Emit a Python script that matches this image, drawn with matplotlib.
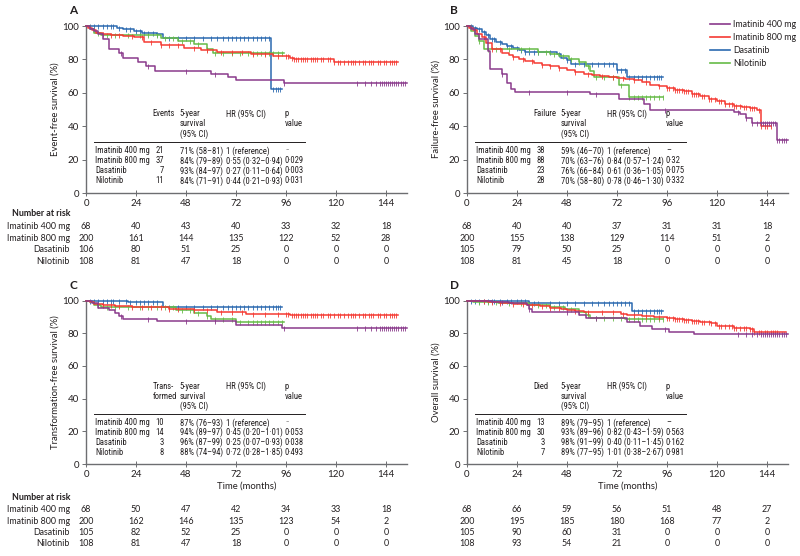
import numpy as np
import matplotlib
matplotlib.use("Agg")
import matplotlib.pyplot as plt
from matplotlib import transforms
from matplotlib import font_manager as fm
from matplotlib.lines import Line2D

plt.rcParams['font.family'] = ['Lato', 'DejaVu Sans']
TXT = "#231f20"

# pick a condensed face for the small tables if one is installed
_entries = [(f.name, str(f.stretch)) for f in fm.fontManager.ttflist]
TABLE_KW = dict(family=['Lato', 'DejaVu Sans'], fontsize=5.4)
for _name, _stretch in _entries:
    if _name in ('Liberation Sans Narrow', 'Roboto Condensed', 'Open Sans Condensed', 'Arial Narrow'):
        TABLE_KW = dict(family=[_name, 'Lato'], fontsize=6.2)
        break
else:
    for _name, _stretch in _entries:
        if _name in ('DejaVu Sans', 'Noto Sans', 'Open Sans') and _stretch in ('condensed', 'semi-condensed', '75', '87.5'):
            TABLE_KW = dict(family=[_name, 'Lato'], fontsize=5.9, fontstretch=_stretch)
            break

groups = ["Imatinib 400 mg", "Imatinib 800 mg", "Dasatinib", "Nilotinib"]
colors = ["#8a3a8c", "#f53a33", "#2b69b0", "#66bb47"]
xticks = [0, 24, 48, 72, 96, 120, 144]

# ---- censor times (months) per group ----
cens_im400 = [17, 30, 48, 62, 95, 130, 134, 137, 139, 141, 142, 143, 144, 145, 146, 147, 148, 149, 150, 151, 152, 153]
cens_im800 = [8, 12, 16, 22, 27, 31, 36, 40, 44, 52, 58, 65, 70, 75, 80, 86, 92, 96, 97, 99, 100, 101, 102, 103,
              104, 105, 106, 108, 109, 110, 111, 113, 114, 116, 117, 119, 121, 122, 124, 126, 127, 128, 129, 131,
              133, 134, 136, 137, 138, 140, 141, 143, 144, 146, 147, 148, 149]
cens_das = [2, 4, 6, 8, 10, 12, 13, 16, 19, 21, 24, 26, 28, 30, 32, 34, 40, 44, 48, 52, 56, 60, 63, 66, 68, 70,
            72, 74, 76, 78, 80, 82, 84, 86, 88, 90, 91, 92, 93]
cens_nil = [6, 10, 14, 20, 26, 30, 34, 38, 42, 46, 50, 54, 58, 62, 66, 70, 74, 78, 80, 82, 84, 86, 88, 90, 92, 94]

# ---- Panel A: event-free survival ----
A_t_im400 = [2, 4, 6, 8, 11, 16, 18, 25, 29, 33, 60, 68, 72, 95]
A_s_im400 = [98.5, 97, 95.5, 92, 86, 83.8, 81, 78.5, 76, 73, 71, 69.5, 67.5, 66]
A_t_im800 = [1, 3, 5, 8, 12, 18, 23, 28, 36, 47, 55, 63, 79, 90, 98, 100, 119]
A_s_im800 = [99, 97.5, 96, 95, 94.5, 94, 93.5, 90.5, 88.8, 86.8, 85.4, 84.4, 83, 82, 80.8, 80.2, 78.3]
A_t_das = [15, 18, 23, 27, 34, 37, 89]
A_s_das = [99, 98, 97, 96, 95, 93, 62]
A_t_nil = [2, 4, 7, 36, 44, 52, 58, 61]
A_s_nil = [98, 96, 94.5, 93, 91, 89, 86.5, 84]
A_end = [154, 150, 94, 95]

# ---- Panel B: failure-free survival ----
B_t_im400 = [2, 4, 6, 10, 11, 17, 19, 21, 23, 59, 73, 85, 88, 128, 131, 134, 137, 149]
B_s_im400 = [98, 95, 92, 85, 74, 71, 66, 62, 60.5, 59, 56.5, 53.5, 50, 48.8, 47.4, 44.8, 42, 32]
B_t_im800 = [1, 3, 5, 7, 9, 12, 17, 20, 22, 25, 28, 32, 36, 40, 44, 48, 52, 56, 60, 64, 68, 72, 76, 80, 84,
             88, 92, 96, 100, 104, 108, 112, 116, 120, 124, 128, 132, 136, 139, 141]
B_s_im800 = [99, 97.5, 95.5, 93.5, 90, 86, 84, 82.5, 81.5, 80, 79, 77.8, 76.8, 75.8, 74.8, 73.8, 72.6, 71.4,
             70.5, 70, 69.6, 69, 68.2, 67.4, 66.2, 64.8, 63.8, 62.8, 61.8, 60.8, 59.3, 57.8, 56.3, 54.8, 53.5,
             52.2, 51.5, 50.8, 49.8, 40]
B_t_das = [3, 5, 7, 9, 11, 14, 17, 19, 22, 25, 28, 43, 45, 48, 50, 72, 77]
B_s_das = [99, 98, 96.5, 94.5, 92, 90.5, 89, 88, 86.8, 85.4, 84.2, 83, 81, 79.4, 77, 73.4, 69.5]
B_t_nil = [2, 4, 6, 8, 34, 40, 44, 49, 54, 57, 59, 61, 73, 78]
B_s_nil = [97, 94, 91, 86, 84.5, 83.5, 82, 80, 78.4, 76, 72.8, 69.5, 64.5, 57.5]
B_end = [154, 146, 94, 94]

# ---- Panel C: transformation-free survival ----
C_t_im400 = [3, 6, 11, 14, 16, 18, 34, 72, 94]
C_s_im400 = [98.5, 95.5, 94, 92.5, 90.5, 88.5, 87.3, 85.3, 83]
C_t_im800 = [2, 4, 8, 14, 22, 40, 52, 63, 77, 98]
C_s_im800 = [99, 98, 97, 96.5, 96, 95, 94.2, 93, 92, 91.2]
C_t_das = [20, 37]
C_s_das = [99, 96]
C_t_nil = [2, 4, 7, 43, 52, 58, 60, 72]
C_s_nil = [99, 97.5, 96, 94, 92.5, 90.5, 88.5, 87]
C_end = [154, 150, 94, 95]

# ---- Panel D: overall survival ----
D_t_im400 = [5, 12, 20, 29, 30, 31, 54, 57, 77, 83, 89, 97, 109]
D_s_im400 = [99.5, 99, 98.5, 97.5, 95, 93, 91, 89.5, 87, 84.5, 82.5, 81, 79.7]
D_t_im800 = [4, 10, 16, 22, 29, 35, 40, 45, 48, 52, 56, 66, 74, 77, 84, 90, 96, 100, 104, 108, 112, 117, 120,
             128, 136, 138]
D_s_im800 = [99.7, 99.2, 98.5, 98, 97, 96.4, 95.5, 95, 94.3, 93.8, 93.2, 92.8, 92, 91, 90.6, 90, 89, 88.6, 88,
             87.5, 86.8, 86, 84.2, 83.2, 82.3, 80.7]
D_t_das = [8, 30, 79]
D_s_das = [99.5, 98.2, 93.8]
D_t_nil = [3, 15, 30, 40, 47, 54, 57, 59, 76]
D_s_nil = [99, 98.2, 97, 96, 94.5, 93, 91, 89.5, 88.6]
D_end = [154, 153, 94, 94]

# ---- tables ----
A_count_head = ["Events"]
A_counts = ["21", "37", "7", "11"]
A_surv = ["71% (58–81)", "84% (79–89)", "93% (84–97)", "84% (71–91)"]
A_hr = ["1 (reference)", "0·55 (0·32–0·94)", "0·27 (0·11–0·64)", "0·44 (0·21–0·93)"]
A_p = ["··", "0·029", "0·003", "0·031"]

B_count_head = ["Failure"]
B_counts = ["38", "88", "23", "28"]
B_surv = ["59% (46–70)", "70% (63–76)", "76% (66–84)", "70% (58–80)"]
B_hr = ["1 (reference)", "0·84 (0·57–1·24)", "0·61 (0·36–1·05)", "0·78 (0·46–1·30)"]
B_p = ["–", "0·32", "0·075", "0·332"]

C_count_head = ["Trans-", "formed"]
C_counts = ["10", "14", "3", "8"]
C_surv = ["87% (76–93)", "94% (89–97)", "96% (87–99)", "88% (74–94)"]
C_hr = ["1 (reference)", "0·45 (0·20–1·01)", "0·25 (0·07–0·93)", "0·72 (0·28–1·85)"]
C_p = ["··", "0·053", "0·038", "0·493"]

D_count_head = ["Died"]
D_counts = ["13", "30", "3", "7"]
D_surv = ["89% (79–95)", "93% (89–96)", "98% (91–99)", "89% (77–95)"]
D_hr = ["1 (reference)", "0·82 (0·43–1·59)", "0·40 (0·11–1·45)", "1·01 (0·38–2·67)"]
D_p = ["–", "0·563", "0·162", "0·981"]

# ---- number at risk ----
A_risk = [[68, 40, 43, 40, 33, 32, 18], [200, 161, 144, 135, 122, 52, 28],
          [106, 80, 51, 25, 0, 0, 0], [108, 81, 47, 18, 0, 0, 0]]
B_risk = [[68, 40, 40, 37, 31, 31, 18], [200, 155, 138, 129, 114, 51, 2],
          [105, 79, 50, 25, 0, 0, 0], [108, 81, 45, 18, 0, 0, 0]]
C_risk = [[68, 50, 47, 42, 34, 33, 18], [200, 162, 146, 135, 123, 54, 2],
          [105, 82, 52, 25, 0, 0, 0], [108, 81, 47, 18, 0, 0, 0]]
D_risk = [[68, 66, 59, 56, 51, 48, 27], [200, 195, 185, 180, 168, 77, 2],
          [105, 90, 60, 31, 0, 0, 0], [108, 93, 54, 21, 0, 0, 0]]

W, H = 800, 556
fig = plt.figure(figsize=(W / 100, H / 100), dpi=100)
XMAX = 154
PXM = 2.083


def add_ax(left, top, bottom):
    right = left + XMAX * PXM
    return fig.add_axes([left / W, 1 - bottom / H, (right - left) / W, (bottom - top) / H])


def km(ax, t, s, end, cens, color):
    x = np.r_[0, t, end]
    y = np.r_[100, s, s[-1]]
    ax.step(x, y, where='post', color=color, lw=1.1, clip_on=False, zorder=3)
    c = np.array([v for v in cens if v <= end])
    idx = np.searchsorted(np.asarray(t), c, side='right')
    yv = np.r_[100, s][idx]
    ax.plot(c, yv, ls='none', marker='|', ms=3.6, mew=0.6, color=color, clip_on=False, zorder=3)


def style(ax, ylabel, letter, xlabel=None):
    ax.set_xlim(0, XMAX)
    ax.set_ylim(0, 100)
    ax.set_xticks(xticks)
    ax.set_yticks([0, 20, 40, 60, 80, 100])
    for sp in ['top', 'right']:
        ax.spines[sp].set_visible(False)
    for sp in ['left', 'bottom']:
        ax.spines[sp].set_color("#6d6e71")
        ax.spines[sp].set_linewidth(1.0)
    ax.tick_params(axis='x', direction='inout', length=5, width=0.7, color="#6d6e71",
                   labelsize=7, labelcolor=TXT, pad=2)
    ax.tick_params(axis='y', direction='out', length=3, width=0.7, color="#6d6e71",
                   labelsize=7, labelcolor=TXT, pad=2)
    ax.set_ylabel(ylabel, fontsize=6.8, color=TXT, labelpad=2)
    if xlabel:
        ax.set_xlabel(xlabel, fontsize=6.8, color=TXT, labelpad=2)
    ax.text(-0.04, 1.09, letter, transform=ax.transAxes, fontsize=8.5, fontweight='bold',
            color=TXT, ha='center', va='center')


def table(ax, count_head, counts, surv, hr, pv):
    kw = dict(color=TXT, va='center', **TABLE_KW)
    hy = [47.4, 41.4, 35.4]
    for i, h in enumerate(count_head):
        ax.text(32, hy[i], h, ha='left', **kw)
    for i, h in enumerate(["5-year", "survival", "(95% CI)"]):
        ax.text(45, hy[i], h, ha='left', **kw)
    ax.text(67, hy[0], "HR (95% CI)", ha='left', **kw)
    for i, h in enumerate(["p", "value"]):
        ax.text(95.5, hy[i], h, ha='left', **kw)
    ax.plot([4, 105], [30.6, 30.6], color="#231f20", lw=0.7, zorder=2)
    ry = [25.2, 19.2, 13.2, 7.2]
    for i in range(4):
        ax.text(4.5, ry[i], groups[i], ha='left', **kw)
        ax.text(37.5, ry[i], counts[i], ha='right', **kw)
        ax.text(45, ry[i], surv[i], ha='left', **kw)
        ax.text(67, ry[i], hr[i], ha='left', **kw)
        ax.text(95.5, ry[i], pv[i], ha='left', **kw)


def risk(ax, rows, ys, with_labels, head_y):
    fs = 6.4
    tr = transforms.blended_transform_factory(ax.transData, fig.transFigure)
    for r, y in zip(rows, ys):
        for xv, n in zip(xticks, r):
            ax.text(xv, 1 - y / H, str(n), transform=tr, fontsize=fs, color=TXT,
                    ha='center', va='center', clip_on=False)
    if with_labels:
        fig.text(70 / W, 1 - head_y / H, "Number at risk", fontsize=fs, fontweight='bold',
                 color=TXT, ha='right', va='center')
        for g, y in zip(groups, ys):
            fig.text(70 / W, 1 - y / H, g, fontsize=fs, color=TXT, ha='right', va='center')


axA = add_ax(86, 26, 193)
axB = add_ax(467, 26, 193)
axC = add_ax(86, 300.5, 464)
axD = add_ax(467, 300.5, 464)

cens = [cens_im400, cens_im800, cens_das, cens_nil]
panels = [
    (axA, [A_t_im400, A_t_im800, A_t_das, A_t_nil], [A_s_im400, A_s_im800, A_s_das, A_s_nil], A_end),
    (axB, [B_t_im400, B_t_im800, B_t_das, B_t_nil], [B_s_im400, B_s_im800, B_s_das, B_s_nil], B_end),
    (axC, [C_t_im400, C_t_im800, C_t_das, C_t_nil], [C_s_im400, C_s_im800, C_s_das, C_s_nil], C_end),
    (axD, [D_t_im400, D_t_im800, D_t_das, D_t_nil], [D_s_im400, D_s_im800, D_s_das, D_s_nil], D_end),
]
for ax, ts, ss, ends in panels:
    for k in [2, 3, 1, 0]:
        km(ax, ts[k], ss[k], ends[k], cens[k], colors[k])

style(axA, "Event-free survival (%)", "A")
style(axB, "Failure-free survival (%)", "B")
style(axC, "Transformation-free survival (%)", "C", "Time (months)")
style(axD, "Overall survival (%)", "D", "Time (months)")

table(axA, A_count_head, A_counts, A_surv, A_hr, A_p)
table(axB, B_count_head, B_counts, B_surv, B_hr, B_p)
table(axC, C_count_head, C_counts, C_surv, C_hr, C_p)
table(axD, D_count_head, D_counts, D_surv, D_hr, D_p)

risk(axA, A_risk, [226.5, 238.2, 249.8, 261.2], True, 214)
risk(axB, B_risk, [226.5, 238.2, 249.8, 261.2], False, 214)
risk(axC, C_risk, [509.5, 521, 532.5, 544], True, 497)
risk(axD, D_risk, [509.5, 521, 532.5, 544], False, 497)

handles = [Line2D([0], [0], color=c, lw=1.2) for c in colors]
fig.legend(handles, groups, loc='upper left', bbox_to_anchor=(710 / W, 1 - 20 / H),
           frameon=False, fontsize=6.4, handlelength=2.2, handletextpad=0.4,
           labelspacing=0.45, borderaxespad=0, borderpad=0, labelcolor=TXT)

fig.savefig("out.png", dpi=100)
